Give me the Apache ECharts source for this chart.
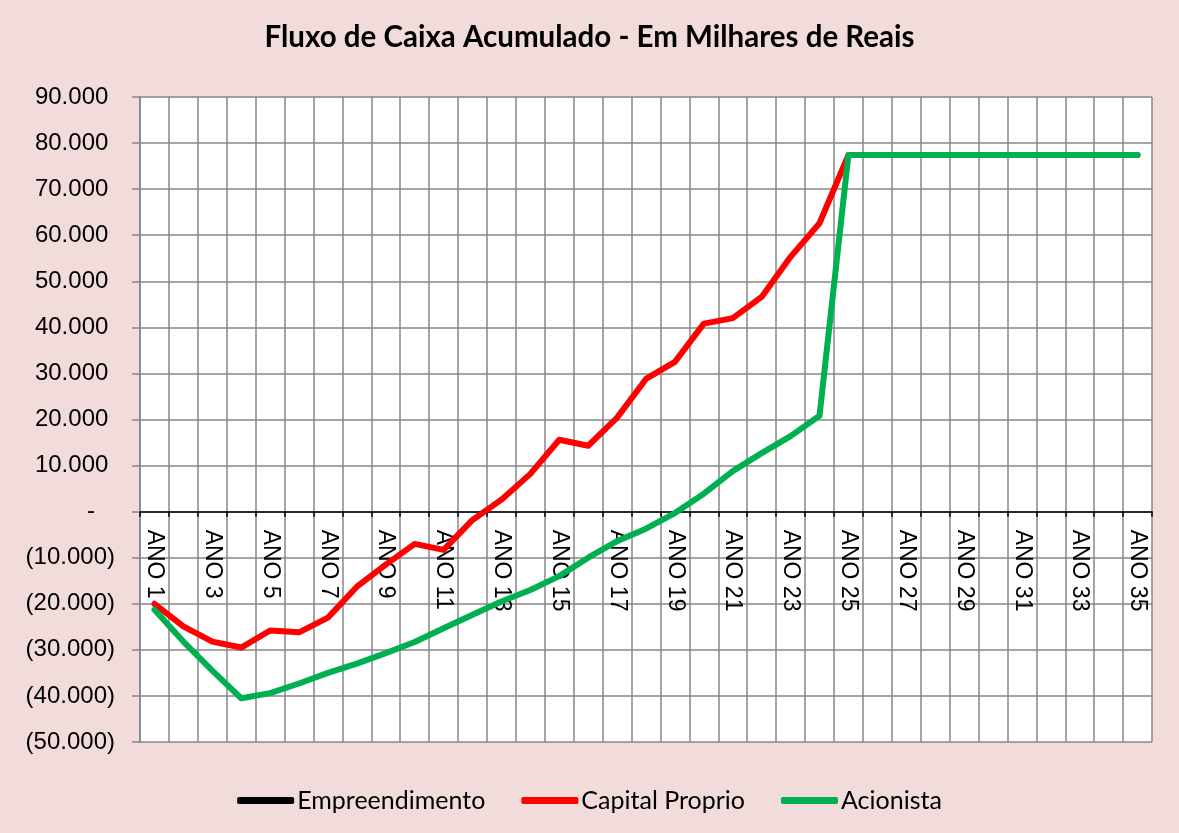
<!DOCTYPE html>
<html>
<head>
<meta charset="utf-8">
<script src="https://cdn.jsdelivr.net/npm/echarts@6/dist/echarts.min.js"></script>
<style>
  html, body { margin: 0; padding: 0; background: #F2DCDB; }
  #chart { width: 1179px; height: 833px; }
</style>
</head>
<body>
<div id="chart"></div>
<script>
// categorias (ANO 1 .. ANO 35)
const anos = [];
for (let i = 1; i <= 35; i++) anos.push('ANO ' + i);

// valores (milhares de reais)
const empreendimento = [];
const capitalProprio = [
  -20000, -24900, -28200, -29500, -25800, -26200, -23000, -16300, -11500, -7000,
  -8300, -1800, 2600, 8200, 15600, 14300, 20400, 28800, 32500, 40800,
  42000, 46600, 55300, 62600, 77400, 77400, 77400, 77400, 77400, 77400,
  77400, 77400, 77400, 77400, 77400
];
const acionista = [
  -21300, -28200, -34500, -40500, -39400, -37300, -35000, -33000, -30700, -28300,
  -25300, -22400, -19500, -17000, -14000, -10000, -6400, -3700, -300, 3900,
  8800, 12700, 16400, 20800, 77400, 77400, 77400, 77400, 77400, 77400,
  77400, 77400, 77400, 77400, 77400
];

const gridColor = '#878787';
const yMin = -50000, yMax = 90000;
const gridTop = 97, gridBottom = 91, chartH = 833;

function fmtY(v) {
  if (v === 0) return '-   ';
  const s = Math.abs(v).toLocaleString('de-DE');
  return v < 0 ? '(' + s + ')' : s + ' ';
}

// eixo das categorias passa no zero: desloca o eixo a partir da base do grid
const plotH = chartH - gridTop - gridBottom;
const zeroOffset = -plotH * (0 - yMin) / (yMax - yMin);

const chart = echarts.init(document.getElementById('chart'));
chart.setOption({
  backgroundColor: '#F2DCDB',
  animation: false,
  title: {
    text: 'Fluxo de Caixa Acumulado - Em Milhares de Reais',
    left: 'center',
    top: 17,
    textStyle: { fontFamily: 'Lato', fontWeight: 'bold', fontSize: 29.5, color: '#000' }
  },
  legend: {
    bottom: 15,
    left: 'center',
    itemWidth: 57,
    itemHeight: 7,
    itemGap: 36,
    icon: 'roundRect',
    textStyle: { fontFamily: 'Lato', fontSize: 25, color: '#000', padding: [0, 0, 0, -2] },
    data: ['Empreendimento', 'Capital Proprio', 'Acionista']
  },
  grid: {
    left: 140, right: 27, top: gridTop, bottom: gridBottom,
    show: true, backgroundColor: '#fff', borderWidth: 0
  },
  xAxis: {
    type: 'category',
    data: anos,
    boundaryGap: true,
    offset: zeroOffset,
    axisLine: { onZero: false, lineStyle: { color: '#000', width: 1.5 } },
    axisTick: { show: true, interval: 0, length: 5, lineStyle: { color: '#000', width: 1.5 } },
    axisLabel: {
      interval: 1, rotate: -90, margin: 18,
      fontFamily: 'Liberation Sans', fontSize: 23, color: '#000'
    },
    splitLine: { show: true, interval: 0, lineStyle: { color: gridColor, width: 1.5 } }
  },
  yAxis: {
    type: 'value',
    min: yMin, max: yMax, interval: 10000,
    axisLine: { show: true, onZero: false, lineStyle: { color: gridColor, width: 1.5 } },
    axisTick: { show: true, length: 8, lineStyle: { color: gridColor, width: 1.5 } },
    axisLabel: {
      formatter: fmtY, margin: 25,
      fontFamily: 'Liberation Sans', fontSize: 24, color: '#000'
    },
    splitLine: { show: true, lineStyle: { color: gridColor, width: 1.5 } }
  },
  series: [
    {
      name: 'Empreendimento', type: 'line', data: empreendimento, symbol: 'none',
      itemStyle: { color: '#000' },
      lineStyle: { color: '#000', width: 6, cap: 'round', join: 'round' }
    },
    {
      name: 'Capital Proprio', type: 'line', data: capitalProprio, symbol: 'none',
      itemStyle: { color: '#FF0000' },
      lineStyle: { color: '#FF0000', width: 6, cap: 'round', join: 'round' }
    },
    {
      name: 'Acionista', type: 'line', data: acionista, symbol: 'none',
      itemStyle: { color: '#00B050' },
      lineStyle: { color: '#00B050', width: 6, cap: 'round', join: 'round' }
    }
  ]
});
</script>
</body>
</html>
